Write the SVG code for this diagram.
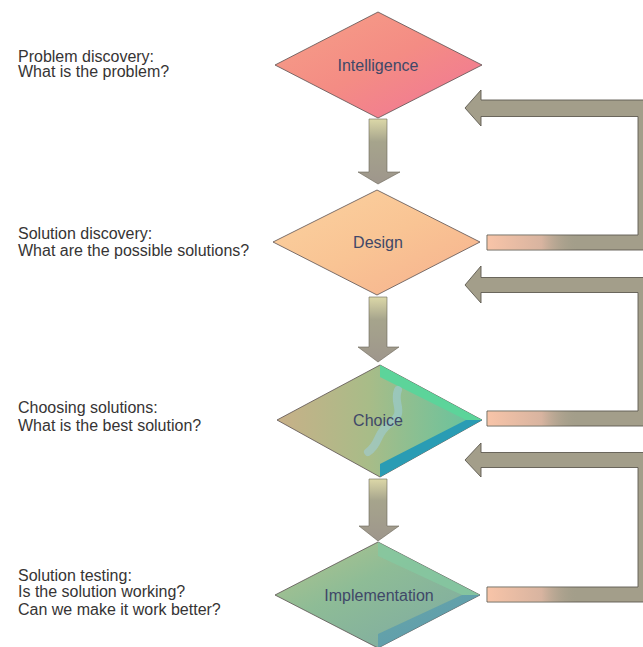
<svg xmlns="http://www.w3.org/2000/svg" width="643" height="647" viewBox="0 0 643 647">
  <defs>
    <linearGradient id="gIntel" x1="0" y1="0" x2="1" y2="1">
      <stop offset="0" stop-color="#f6a088"/>
      <stop offset="0.5" stop-color="#f48c84"/>
      <stop offset="1" stop-color="#f07498"/>
    </linearGradient>
    <linearGradient id="gDesign" x1="0" y1="0" x2="1" y2="1">
      <stop offset="0" stop-color="#fbd2a0"/>
      <stop offset="0.5" stop-color="#f9c494"/>
      <stop offset="1" stop-color="#f6b08e"/>
    </linearGradient>
    <linearGradient id="gChoice" x1="0" y1="0" x2="1" y2="0">
      <stop offset="0" stop-color="#c8b088"/>
      <stop offset="0.45" stop-color="#a8bc88"/>
      <stop offset="1" stop-color="#60c4a0"/>
    </linearGradient>
    <linearGradient id="gImpl" x1="0" y1="0" x2="1" y2="1">
      <stop offset="0" stop-color="#b4c48c"/>
      <stop offset="0.4" stop-color="#8ebc96"/>
      <stop offset="1" stop-color="#7ca8a4"/>
    </linearGradient>
    <linearGradient id="gShaft" x1="0" y1="0" x2="0" y2="1">
      <stop offset="0" stop-color="#dcd8a8"/>
      <stop offset="0.35" stop-color="#a6a48c"/>
      <stop offset="1" stop-color="#9e968c"/>
    </linearGradient>
    <linearGradient id="gFade" x1="0" y1="0" x2="1" y2="0">
      <stop offset="0" stop-color="#f8c4a8"/>
      <stop offset="0.6" stop-color="#d8b4a0"/>
      <stop offset="1" stop-color="#a39e8a" stop-opacity="0"/>
    </linearGradient>
    <style>
      .side { font-family: "Liberation Sans", Arial, sans-serif; font-size: 16px; fill: #363434; }
      .lbl { font-family: "Liberation Sans", Arial, sans-serif; font-size: 16px; fill: #404868; text-anchor: middle; }
      .band { fill: #a39e8a; stroke: #5e5a50; stroke-width: 0.9; }
      .varrow { fill: url(#gShaft); stroke: #6a6458; stroke-width: 0.6; }
      .edge { stroke: #5a5050; stroke-width: 0.8; }
    </style>
  </defs>

  <rect width="643" height="647" fill="#ffffff"/>

  <!-- side captions -->
  <g id="caption-intelligence">
    <text class="side" x="18" y="61.5">Problem discovery:</text>
    <text class="side" x="18" y="77">What is the problem?</text>
  </g>
  <g id="caption-design">
    <text class="side" x="18" y="239">Solution discovery:</text>
    <text class="side" x="18" y="255.5">What are the possible solutions?</text>
  </g>
  <g id="caption-choice">
    <text class="side" x="18" y="412.5">Choosing solutions:</text>
    <text class="side" x="18" y="430.5">What is the best solution?</text>
  </g>
  <g id="caption-implementation">
    <text class="side" x="18" y="580.5">Solution testing:</text>
    <text class="side" x="18" y="597">Is the solution working?</text>
    <text class="side" x="18" y="615">Can we make it work better?</text>
  </g>

  <!-- connectors: downward arrows and feedback loops -->
  <g id="connectors">
    <path class="varrow" d="M369,119 L387,119 L387,172 L400,172 L378,184 L358,172 L369,172 Z"/>
    <path class="varrow" d="M369,297 L387,297 L387,347 L399,347 L378,362 L358,347 L369,347 Z"/>
    <path class="varrow" d="M369,479 L387,479 L387,526 L399,526 L378,541 L359,526 L369,526 Z"/>

    <path class="band" d="M487,235 L638,235 L638,116.5 L481,116.5 L481,126 L465,108 L481,90 L481,100 L660,100 L660,250 L487,250 Z"/>
    <rect x="487.5" y="235.5" width="90" height="14" fill="url(#gFade)"/>

    <path class="band" d="M487,411 L638,411 L638,292.5 L481,292.5 L481,303 L465,285 L481,266 L481,277.5 L660,277.5 L660,426 L487,426 Z"/>
    <rect x="487.5" y="411.5" width="90" height="14" fill="url(#gFade)"/>

    <path class="band" d="M487,587 L638,587 L638,467.5 L481,467.5 L481,477 L465,460 L481,443 L481,452.5 L660,452.5 L660,602 L487,602 Z"/>
    <rect x="487.5" y="587.5" width="90" height="14" fill="url(#gFade)"/>
  </g>

  <!-- decision diamonds -->
  <g id="node-intelligence">
    <polygon class="edge" points="378,12 482,65 378,118 275,65" fill="url(#gIntel)"/>
    <text class="lbl" x="378" y="71">Intelligence</text>
  </g>
  <g id="node-design">
    <polygon class="edge" points="377,190 480,242 377,295 273,242" fill="url(#gDesign)"/>
    <text class="lbl" x="378" y="248">Design</text>
  </g>
  <g id="node-choice">
    <polygon class="edge" points="380,365 482,420 380,477 277,420" fill="url(#gChoice)"/>
    <polygon points="380,365 482,420 466,420 380,377" fill="#5cd49a"/>
    <polygon points="482,420 380,477 380,464 466,420" fill="#2a9cb4"/>
    <path d="M398,390 C392,405 408,412 388,425 C376,434 380,444 368,452" fill="none" stroke="#9ed0e6" stroke-width="8" stroke-linecap="round" opacity="0.5"/>
    <text class="lbl" x="378" y="426">Choice</text>
  </g>
  <g id="node-implementation">
    <polygon class="edge" points="378,542 480,595 378,648 275,595" fill="url(#gImpl)"/>
    <polygon points="378,542 480,595 462,595 378,556" fill="#84c8a0" opacity="0.8"/>
    <polygon points="480,595 378,648 378,634 462,595" fill="#5a9cae" opacity="0.8"/>
    <text class="lbl" x="379" y="601">Implementation</text>
  </g>
</svg>
